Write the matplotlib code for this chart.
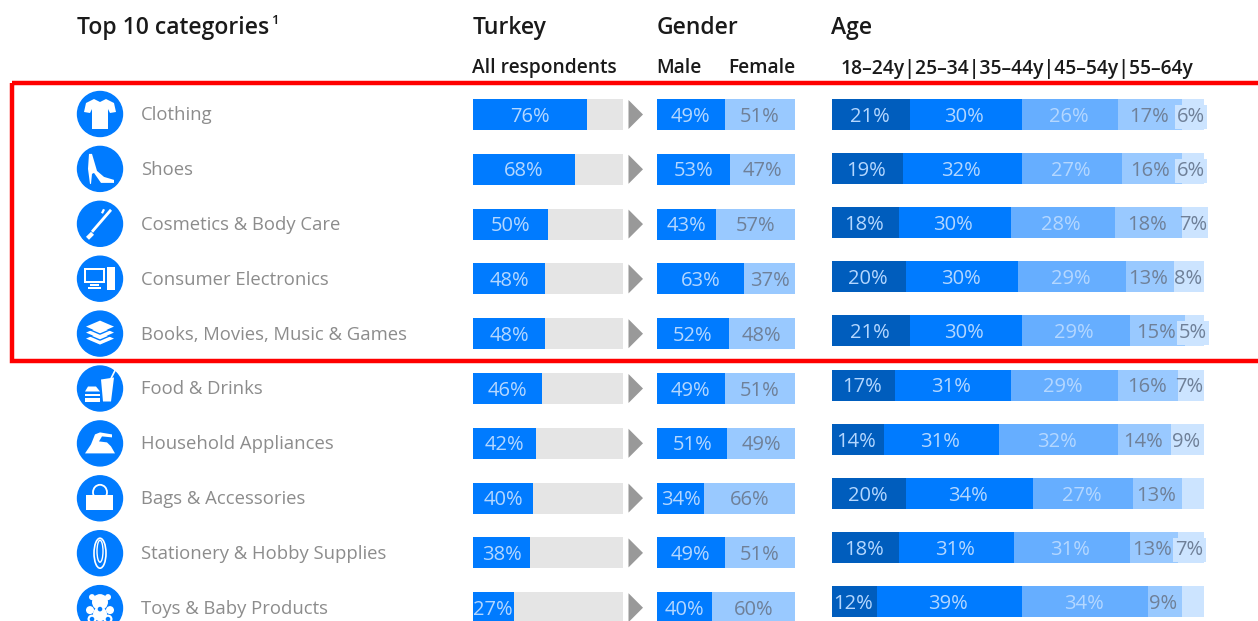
import matplotlib.pyplot as plt
from matplotlib.patches import Circle, Polygon, Rectangle, Ellipse

plt.rcParams['font.family'] = ['Open Sans', 'DejaVu Sans']

categories = ['Clothing', 'Shoes', 'Cosmetics & Body Care', 'Consumer Electronics',
              'Books, Movies, Music & Games', 'Food & Drinks', 'Household Appliances',
              'Bags & Accessories', 'Stationery & Hobby Supplies', 'Toys & Baby Products']
turkey = [76, 68, 50, 48, 48, 46, 42, 40, 38, 27]
male = [49, 53, 43, 63, 52, 49, 51, 34, 49, 40]
female = [51, 47, 57, 37, 48, 51, 49, 66, 51, 60]
age_18_24 = [21, 19, 18, 20, 21, 17, 14, 20, 18, 12]
age_25_34 = [30, 32, 30, 30, 30, 31, 31, 34, 31, 39]
age_35_44 = [26, 27, 28, 29, 29, 29, 32, 27, 31, 34]
age_45_54 = [17, 16, 18, 13, 15, 16, 14, 13, 13, 9]
age_55_64 = [6, 6, 7, 8, 5, 7, 9, 6, 7, 6]
# last age segment has no printed number in these rows
no_last_label = [7, 9]
# last age label sits in its own little box in these rows
boxed_last = [0, 1, 4, 8]
age_groups = ['18–24y', '25–34', '35–44y', '45–54y', '55–64y']

BLUE = '#007BFF'
AGE_COLORS = ['#005DBD', BLUE, '#66AEFF', '#99C9FF', '#CCE4FF']
TXT_ON_BLUE = '#B4D7FF'
TXT_ON_LIGHT = '#6F8098'
TXT_CAT = '#8C8C8C'
TXT_HEAD = '#1A1A1A'

row_y = [114.5 + 54.8 * i for i in range(10)]
age_y = [114.5 + 54.1 * i for i in range(10)]
icon_y = [114 + 54.9 * i for i in range(10)]
BAR_H = 31


def draw_icon(ax, name, cx, cy):
    ax.add_patch(Ellipse((cx, cy), 45, 45, color=BLUE, zorder=2))
    w = dict(facecolor='white', edgecolor='none', zorder=3)
    def poly(points):
        ax.add_patch(Polygon([(cx + x, cy + y) for x, y in points], **w))
    def rect(x, y, rw, rh):
        ax.add_patch(Rectangle((cx + x, cy + y), rw, rh, **w))
    if name == 'shirt':
        poly([(-6, -15), (-14, -11), (-16, -2), (-10, -1), (-8, -5), (-8, 15), (8, 15),
              (8, -5), (10, -1), (16, -2), (14, -11), (6, -15), (0, -12)])
    elif name == 'shoe':
        poly([(-11, -15), (-8, -15), (-3, 2), (4, 8), (14, 11), (14, 14), (1, 14),
              (-6, 4), (-8, 5), (-9, 15), (-10, 15), (-12, 0)])
    elif name == 'brush':
        poly([(10, -15), (12, -13), (-7, 9), (-9, 7)])
        poly([(-9, 8), (-6, 11), (-11, 16), (-14, 13)])
        poly([(3, -15), (5, -14), (3, -10), (1, -11)])
    elif name == 'pc':
        rect(-16, -11, 21, 15)
        rect(-10, 5, 9, 2)
        rect(-12, 8, 13, 2)
        rect(7, -12, 8, 23)
        ax.add_patch(Rectangle((cx - 14, cy - 9), 17, 11, facecolor=BLUE, edgecolor='none', zorder=4))
    elif name == 'books':
        for dy in (-7, -1, 5):
            poly([(-14, dy), (0, dy - 6), (14, dy), (0, dy + 6)])
            ax.plot([cx - 14, cx, cx + 14], [cy + dy + 1.5, cy + dy + 7.5, cy + dy + 1.5],
                    color=BLUE, lw=1, zorder=4)
    elif name == 'food':
        poly([(1, -9), (14, -11), (11, 13), (3, 13)])
        ax.plot([cx + 11, cx + 15], [cy - 10, cy - 18], color='white', lw=1.2, zorder=3)
        poly([(-15, 3), (-12, -2), (-4, -2), (0, 3)])
        rect(-15, 5, 15, 2.5)
        rect(-15, 9, 15, 4)
    elif name == 'iron':
        poly([(-15, 10), (-9, 1), (-5, -9), (0, -11), (12, -9), (12, -6), (2, -7), (-1, -2),
              (7, -1), (11, 3), (15, 10)])
    elif name == 'bag':
        rect(-14, -3, 27, 15)
        ax.add_patch(Ellipse((cx, cy - 6), 14, 15, facecolor='none', edgecolor='white', lw=1.3, zorder=3))
    elif name == 'clip':
        ax.add_patch(Ellipse((cx, cy), 12, 30, facecolor='none', edgecolor='white', lw=1.2, zorder=3))
        ax.add_patch(Ellipse((cx, cy - 2), 6, 22, facecolor='none', edgecolor='white', lw=1, zorder=3))
    elif name == 'bear':
        for x, y, r in [(-8, -11, 3), (8, -11, 3), (0, -6, 8), (-10, 2, 4), (10, 2, 4),
                        (0, 6, 7), (-8, 11, 4.5), (8, 11, 4.5)]:
            ax.add_patch(Circle((cx + x, cy + y), r, **w))
        for x, y in [(-8, 11), (8, 11), (0, 1)]:
            ax.add_patch(Circle((cx + x, cy + y), 2.3, facecolor=BLUE, edgecolor='none', zorder=4))


fig = plt.figure(figsize=(12.58, 6.21), dpi=100)
ax = fig.add_axes([0, 0, 1, 1])
ax.set_xlim(0, 1258)
ax.set_ylim(621, 0)
ax.axis('off')

icons = ['shirt', 'shoe', 'brush', 'pc', 'books', 'food', 'iron', 'bag', 'clip', 'bear']
for i, name in enumerate(icons):
    draw_icon(ax, name, 100, icon_y[i])
    ax.text(141, icon_y[i] + 1, categories[i], fontsize=13.3, color=TXT_CAT, va='center', ha='left')

# Turkey
TX, TK = 473, 1.5
ax.barh(row_y, [100 * TK] * 10, left=TX, height=BAR_H, color='#E5E5E5', zorder=2)
ax.barh(row_y, [v * TK for v in turkey], left=TX, height=BAR_H, color=BLUE, zorder=3)
for y, v in zip(row_y, turkey):
    ax.text(TX + v * TK / 2, y + 2, f'{v}%', color=TXT_ON_BLUE, fontsize=14.5, ha='center', va='center', zorder=5)
    ax.add_patch(Polygon([(628.5, y - 14.5), (643, y), (628.5, y + 14.5)], facecolor='#999999', edgecolor='none', zorder=3))

# Gender
GX, GK = 657, 1.38
ax.barh(row_y, [v * GK for v in male], left=GX, height=BAR_H, color=BLUE, zorder=3)
ax.barh(row_y, [v * GK for v in female], left=[GX + v * GK for v in male], height=BAR_H, color='#99C9FF', zorder=3)
for y, m, f in zip(row_y, male, female):
    ax.text(GX + m * GK / 2, y + 2, f'{m}%', color=TXT_ON_BLUE, fontsize=14.5, ha='center', va='center', zorder=5)
    ax.text(GX + (m + f / 2) * GK, y + 2, f'{f}%', color=TXT_ON_LIGHT, fontsize=14.5, ha='center', va='center', zorder=5)

# Age
AX, AK = 832, 3.72
age_series = [age_18_24, age_25_34, age_35_44, age_45_54, age_55_64]
lefts = [AX] * 10
for s, series in enumerate(age_series):
    widths = [v * AK for v in series]
    ax.barh(age_y, widths, left=lefts, height=BAR_H, color=AGE_COLORS[s], zorder=3)
    for i, v in enumerate(series):
        if s == 4 and i in no_last_label:
            continue
        box = None
        if s == 4 and i in boxed_last:
            box = dict(facecolor=AGE_COLORS[4], edgecolor='none', pad=1.5)
        ax.text(lefts[i] + widths[i] / 2 - 1.5, age_y[i] + 2.5, f'{v}%', fontsize=14.5,
                color=TXT_ON_BLUE if s < 3 else TXT_ON_LIGHT, ha='center', va='center', zorder=5, bbox=box)
    lefts = [l + w for l, w in zip(lefts, widths)]

# headers
for x, t in [(77, 'Top 10 categories'), (473, 'Turkey'), (657, 'Gender'), (831, 'Age')]:
    ax.text(x, 28, t, fontsize=16.5, color=TXT_HEAD, weight='semibold', va='center', ha='left')
ax.text(271, 21, '1', fontsize=9.5, color=TXT_HEAD, weight='semibold', va='center', ha='left')
for x, t in [(472, 'All respondents'), (656, 'Male'), (728, 'Female')]:
    ax.text(x, 68, t, fontsize=13.8, color=TXT_HEAD, weight='semibold', va='center', ha='left')
ax.text(841, 69, '|'.join(age_groups), fontsize=13.9, color=TXT_HEAD, weight='semibold', va='center', ha='left')

# red highlight frame, runs off the right edge
ax.add_patch(Rectangle((11.5, 82.5), 1300, 278, facecolor='none', edgecolor='#FF0000', lw=3.2, zorder=10))

fig.savefig('out.png', dpi=100)
